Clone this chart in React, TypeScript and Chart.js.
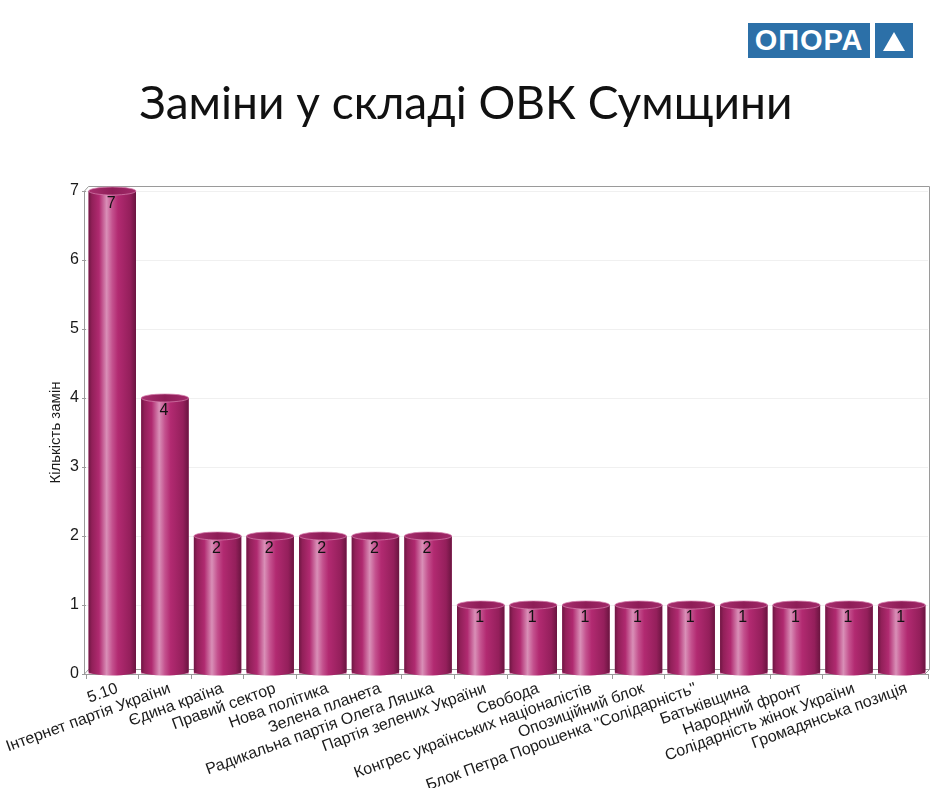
import React, { useEffect, useRef } from "react";
import { Chart, registerables } from "chart.js";

Chart.register(...registerables);

const categories = [
  "5.10",
  "Інтернет партія України",
  "Єдина країна",
  "Правий сектор",
  "Нова політика",
  "Зелена планета",
  "Радикальна партія Олега Ляшка",
  "Партія зелених України",
  "Свобода",
  "Конгрес українських націоналістів",
  "Опозиційний блок",
  "Блок Петра Порошенка \"Солідарність\"",
  "Батьківщина",
  "Народний фронт",
  "Солідарність жінок України",
  "Громадянська позиція",
];
const replacements = [7, 4, 2, 2, 2, 2, 2, 1, 1, 1, 1, 1, 1, 1, 1, 1];
const yMin = 0;
const yMax = 7;
const yStep = 1;

const title = "Заміни у складі ОВК Сумщини";
const yTitle = "Кількість замін";
const logoText = "ОПОРА";

const FONT = "'Liberation Sans', Arial, sans-serif";

const frame3dPlugin = {
  id: "frame3d",
  beforeDatasetsDraw(chart: any) {
    const { ctx, chartArea } = chart;
    const { left, right, top, bottom } = chartArea;
    ctx.save();
    ctx.strokeStyle = "#9a9a9a";
    ctx.lineWidth = 1;
    ctx.beginPath();
    ctx.moveTo(left - 1.5, top);
    ctx.lineTo(left - 1.5, bottom);
    ctx.moveTo(left - 1.5, top);
    ctx.lineTo(left + 2.5, top - 4.5);
    ctx.lineTo(right + 1.5, top - 4.5);
    ctx.lineTo(right + 1.5, bottom - 4.5);
    ctx.lineTo(right - 3, bottom);
    ctx.moveTo(left + 2.5, bottom - 4.5);
    ctx.lineTo(right + 1.5, bottom - 4.5);
    ctx.moveTo(left - 1.5, bottom);
    ctx.lineTo(left + 2.5, bottom - 4.5);
    ctx.stroke();
    ctx.restore();
  },
};

const cylinderPlugin = {
  id: "cylinders",
  afterDatasetsDraw(chart: any) {
    const ctx = chart.ctx;
    const meta = chart.getDatasetMeta(0);
    const data = chart.data.datasets[0].data;
    meta.data.forEach((el: any, i: number) => {
      const { x, y, base, width } = el.getProps(["x", "y", "base", "width"], true);
      const l = x - width / 2;
      const r = x + width / 2;
      const ry = 4;
      ctx.save();
      const g = ctx.createLinearGradient(l, 0, r, 0);
      g.addColorStop(0, "#6f1743");
      g.addColorStop(0.07, "#922059");
      g.addColorStop(0.22, "#b02a70");
      g.addColorStop(0.38, "#d98fb7");
      g.addColorStop(0.5, "#c4518e");
      g.addColorStop(0.62, "#b22a71");
      g.addColorStop(0.88, "#941f5b");
      g.addColorStop(1, "#6a1540");
      ctx.beginPath();
      ctx.moveTo(l, y);
      ctx.lineTo(l, base - 2);
      ctx.ellipse(x, base - 2, width / 2, ry, 0, Math.PI, 0, true);
      ctx.lineTo(r, y);
      ctx.closePath();
      ctx.fillStyle = g;
      ctx.fill();
      const gc = ctx.createLinearGradient(l, 0, r, 0);
      gc.addColorStop(0, "#a8306f");
      gc.addColorStop(0.5, "#8e1d57");
      gc.addColorStop(1, "#a22a6a");
      ctx.beginPath();
      ctx.ellipse(x, y, width / 2, ry, 0, 0, Math.PI * 2);
      ctx.fillStyle = gc;
      ctx.fill();
      ctx.strokeStyle = "rgba(215,130,175,0.7)";
      ctx.lineWidth = 1;
      ctx.stroke();
      ctx.fillStyle = "#111";
      ctx.font = "16px " + FONT;
      ctx.textAlign = "center";
      ctx.textBaseline = "middle";
      ctx.fillText(String(data[i]), x - 1, y + 13);
      ctx.restore();
    });
  },
};

export default function App() {
  const canvasRef = useRef<HTMLCanvasElement | null>(null);

  useEffect(() => {
    const canvas = canvasRef.current;
    if (!canvas) return;
    const chart = new Chart(canvas, {
      type: "bar",
      data: {
        labels: categories,
        datasets: [
          {
            data: replacements,
            backgroundColor: "#a8246a",
            borderWidth: 0,
            barPercentage: 0.9,
            categoryPercentage: 1.0,
          },
        ],
      },
      options: {
        responsive: false,
        animation: false,
        devicePixelRatio: 1,
        layout: { padding: { left: 44, top: 191, right: 12, bottom: 0 } },
        plugins: {
          legend: { display: false },
          tooltip: { enabled: false },
        },
        scales: {
          x: {
            afterFit: (scale: any) => {
              scale.height = 114;
            },
            border: { display: true, color: "#9a9a9a" },
            grid: {
              display: true,
              drawOnChartArea: false,
              drawTicks: true,
              tickLength: 5,
              color: "#9a9a9a",
              offset: true,
            },
            ticks: {
              autoSkip: false,
              minRotation: 20,
              maxRotation: 20,
              labelOffset: 5,
              color: "#1a1a1a",
              padding: 0,
              font: { family: FONT, size: 16 },
            },
          },
          y: {
            min: yMin,
            max: yMax,
            afterFit: (scale: any) => {
              scale.width = 42;
            },
            border: { display: false },
            grid: {
              color: "#f0f0f0",
              tickColor: "#9a9a9a",
              tickLength: 4,
            },
            ticks: {
              stepSize: yStep,
              color: "#1a1a1a",
              padding: 3,
              font: { family: FONT, size: 16 },
            },
            title: {
              display: true,
              text: yTitle,
              color: "#1a1a1a",
              font: { family: FONT, size: 15 },
              padding: { top: 3, bottom: 4 },
            },
          },
        },
      },
      plugins: [frame3dPlugin, cylinderPlugin],
    });
    return () => chart.destroy();
  }, []);

  return (
    <div
      style={{
        position: "fixed",
        left: 0,
        top: 0,
        width: 940,
        height: 788,
        background: "#fff",
        overflow: "hidden",
      }}
    >
      <canvas
        ref={canvasRef}
        width={940}
        height={788}
        style={{ position: "absolute", left: 0, top: 0, width: 940, height: 788 }}
      />
      <div
        style={{
          position: "absolute",
          left: 0,
          top: 74,
          width: 932,
          textAlign: "center",
          fontFamily: "Lato, 'Noto Sans', sans-serif",
          fontSize: 46,
          lineHeight: "56px",
          color: "#111",
          whiteSpace: "nowrap",
        }}
      >
        {title}
      </div>
      <div
        style={{
          position: "absolute",
          left: 748,
          top: 23,
          width: 122,
          height: 35,
          background: "#2c70a8",
          color: "#fff",
          fontFamily: FONT,
          fontWeight: "bold",
          fontSize: 29,
          lineHeight: "35px",
          textAlign: "center",
          letterSpacing: 1,
        }}
      >
        {logoText}
      </div>
      <div
        style={{
          position: "absolute",
          left: 875,
          top: 23,
          width: 38,
          height: 35,
          background: "#2c70a8",
        }}
      >
        <div
          style={{
            position: "absolute",
            left: 8,
            top: 9,
            width: 0,
            height: 0,
            borderLeft: "11px solid transparent",
            borderRight: "11px solid transparent",
            borderBottom: "19px solid #fff",
          }}
        />
      </div>
    </div>
  );
}
